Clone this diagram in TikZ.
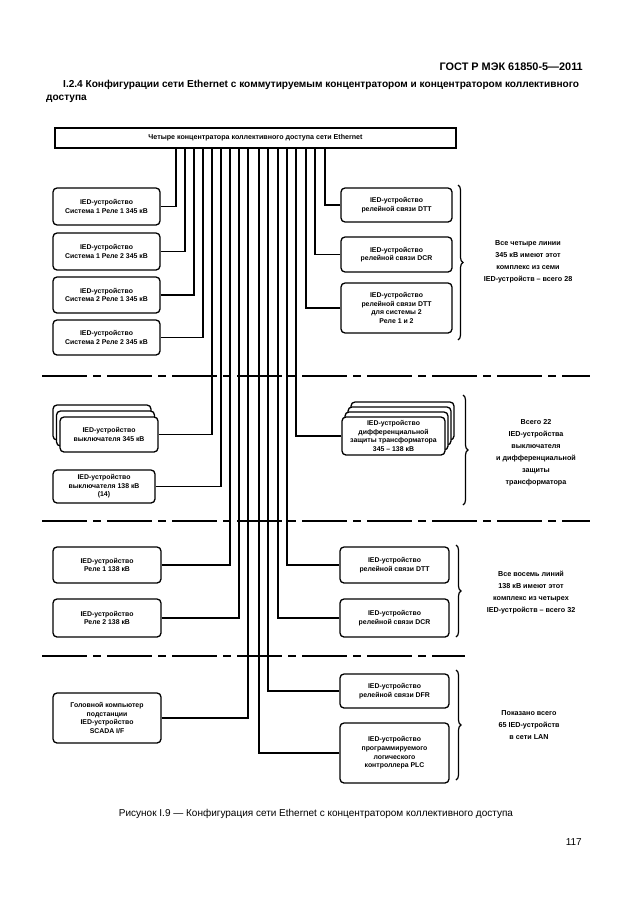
\documentclass[tikz,border=0pt]{standalone}
\usepackage{fontspec}
\setmainfont{Liberation Sans}
\usetikzlibrary{decorations.pathreplacing}
\begin{document}
\begin{tikzpicture}[x=1pt,y=-1pt,
  box/.style={draw, line width=1.3pt, rounded corners=4pt, fill=white, align=center,
    font=\fontsize{6.9}{8.6}\selectfont\bfseries, inner sep=1pt},
  wire/.style={line width=1.2pt},
  sepline/.style={line width=1.4pt, dash pattern=on 45pt off 6pt on 8pt off 6pt},
  brc/.style={line width=1.2pt, decorate, decoration={brace, amplitude=5pt}},
  note/.style={align=center, font=\fontsize{7.2}{12}\selectfont\bfseries}]
\fill[white] (0,0) rectangle (630,913);
\useasboundingbox (0,0) rectangle (630,913);

% header
\node[anchor=base east, inner sep=0, font=\fontsize{10.9}{12}\selectfont\bfseries] (hdr) at (583,70) {ГОСТ Р МЭК 61850-5—2011};
\node[anchor=base west, inner sep=0, font=\fontsize{10.1}{12}\selectfont\bfseries] (h1) at (63,87) {I.2.4 Конфигурации сети Ethernet с коммутируемым концентратором и концентратором коллективного};
\node[anchor=base west, inner sep=0, font=\fontsize{10.1}{12}\selectfont\bfseries] (h2) at (46,100) {доступа};

% top bar
\node[draw, line width=1.3pt, minimum width=401pt, minimum height=20pt, inner sep=0,
  font=\fontsize{7.1}{8}\selectfont\bfseries] (bar) at (255.5,138) {Четыре концентратора коллективного доступа сети Ethernet};

% separators
\draw[sepline] (42,376) -- (590,376);
\draw[sepline] (42,521) -- (590,521);
\draw[sepline] (42,656) -- (465,656);

% x positions of the bus wires
\foreach \n/\xx in {1/176,2/185,3/194,4/203,5/212,6/221,7/230,8/239,9/248,
                    10/259,11/268,12/278,13/287,14/296,15/306,16/315,17/325}
  \coordinate (x\n) at (\xx,0);

% left boxes
\node[box, minimum width=107pt, minimum height=37pt] (b1) at (106.5,206.5) {IED-устройство\\Система 1 Реле 1 345 кВ};
\node[box, minimum width=107pt, minimum height=37pt] (b2) at (106.5,251.5) {IED-устройство\\Система 1 Реле 2 345 кВ};
\node[box, minimum width=107pt, minimum height=36pt] (b3) at (106.5,295) {IED-устройство\\Система 2 Реле 1 345 кВ};
\node[box, minimum width=107pt, minimum height=35pt] (b4) at (106.5,337.5) {IED-устройство\\Система 2 Реле 2 345 кВ};
\node[box, minimum width=98pt, minimum height=35pt] (b5c) at (102,422.5) {};
\node[box, minimum width=98pt, minimum height=35pt] (b5b) at (105.5,428.5) {};
\node[box, minimum width=98pt, minimum height=35pt] (b5) at (109,434.5) {IED-устройство\\выключателя 345 кВ};
\node[box, minimum width=102pt, minimum height=33pt] (b6) at (104,486.5) {IED-устройство\\выключателя 138 кВ\\(14)};
\node[box, minimum width=108pt, minimum height=36pt] (b7) at (107,565) {IED-устройство\\Реле 1 138 кВ};
\node[box, minimum width=108pt, minimum height=38pt] (b8) at (107,618) {IED-устройство\\Реле 2 138 кВ};
\node[box, minimum width=108pt, minimum height=50pt] (b9) at (107,718) {Головной компьютер\\подстанции\\IED-устройство\\SCADA I/F};

% right boxes
\node[box, minimum width=111pt, minimum height=34pt] (r1) at (396.5,205) {IED-устройство\\релейной связи DTT};
\node[box, minimum width=111pt, minimum height=35pt] (r2) at (396.5,254.5) {IED-устройство\\релейной связи DCR};
\node[box, minimum width=111pt, minimum height=50pt] (r3) at (396.5,308) {IED-устройство\\релейной связи DTT\\для системы 2\\Реле 1 и 2};
\node[box, minimum width=103pt, minimum height=38pt] (r4d) at (402.5,421) {};
\node[box, minimum width=103pt, minimum height=38pt] (r4c) at (399.5,426) {};
\node[box, minimum width=103pt, minimum height=38pt] (r4b) at (396.5,431) {};
\node[box, minimum width=103pt, minimum height=38pt] (r4) at (393.5,436) {IED-устройство\\дифференциальной\\защиты трансформатора\\345 – 138 кВ};
\node[box, minimum width=109pt, minimum height=36pt] (r5) at (394.5,565) {IED-устройство\\релейной связи DTT};
\node[box, minimum width=109pt, minimum height=38pt] (r6) at (394.5,618) {IED-устройство\\релейной связи DCR};
\node[box, minimum width=109pt, minimum height=34pt] (r7) at (394.5,691) {IED-устройство\\релейной связи DFR};
\node[box, minimum width=109pt, minimum height=60pt] (r8) at (394.5,753) {IED-устройство\\программируемого\\логического\\контроллера PLC};

% wires
\draw[wire] (b1.east) -| (bar.south -| x1);
\draw[wire] (b2.east) -| (bar.south -| x2);
\draw[wire] (b3.east) -| (bar.south -| x3);
\draw[wire] (b4.east) -| (bar.south -| x4);
\draw[wire] (b5.east) -| (bar.south -| x5);
\draw[wire] (b6.east) -| (bar.south -| x6);
\draw[wire] (b7.east) -| (bar.south -| x7);
\draw[wire] (b8.east) -| (bar.south -| x8);
\draw[wire] (b9.east) -| (bar.south -| x9);
\draw[wire] (r8.west) -| (bar.south -| x10);
\draw[wire] (r7.west) -| (bar.south -| x11);
\draw[wire] (r6.west) -| (bar.south -| x12);
\draw[wire] (r5.west) -| (bar.south -| x13);
\draw[wire] (r4.west) -| (bar.south -| x14);
\draw[wire] (r3.west) -| (bar.south -| x15);
\draw[wire] (r2.west) -| (bar.south -| x16);
\draw[wire] (r1.west) -| (bar.south -| x17);

% braces
\draw[brc] (458,185) -- (458,340);
\draw[brc] (463,395) -- (463,505);
\draw[brc] (456,545) -- (456,637);
\draw[brc] (456,670) -- (456,780);

% notes
\node[note] (n1) at (528,262) {Все четыре линии\\345 кВ имеют этот\\комплекс из семи\\IED-устройств – всего 28};
\node[note] (n2) at (536,453) {Всего 22\\IED-устройства\\выключателя\\и дифференциальной\\защиты\\трансформатора};
\node[note] (n3) at (531,593) {Все восемь линий\\138 кВ имеют этот\\комплекс из четырех\\IED-устройств – всего 32};
\node[note] (n4) at (529,725) {Показано всего\\65 IED-устройств\\в сети LAN};

% caption
\node[anchor=base, inner sep=0, font=\fontsize{10}{12}\selectfont] (cap) at (316,816) {Рисунок I.9 — Конфигурация сети Ethernet с концентратором коллективного доступа};
\node[anchor=base east, inner sep=0, font=\fontsize{10}{12}\selectfont] (pg) at (582,845) {117};
\end{tikzpicture}
\end{document}
